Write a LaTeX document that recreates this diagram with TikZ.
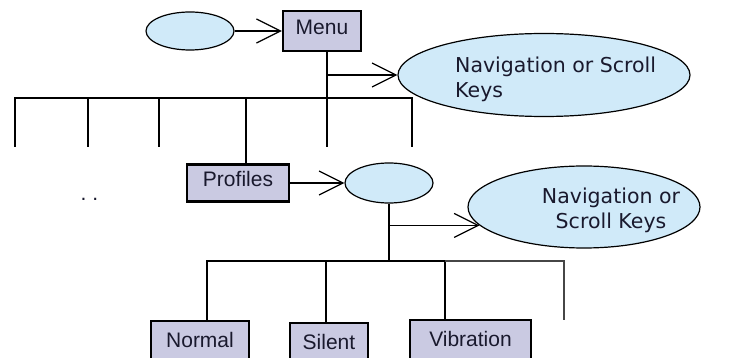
\documentclass[tikz,border=0pt]{standalone}
\usepackage{fontspec}
\setmainfont{Liberation Sans}
\newfontfamily\ellfont{DejaVu Sans}
\usetikzlibrary{shapes.geometric,arrows.meta}

\definecolor{boxfill}{RGB}{202,202,226}
\definecolor{ellfill}{RGB}{208,234,249}
\definecolor{ink}{RGB}{25,25,45}
\definecolor{greyline}{RGB}{70,70,70}

\begin{document}
\begin{tikzpicture}[x=1pt,y=-1pt,
  box/.style={draw=black, line width=2.4pt, fill=boxfill, rectangle, inner sep=0pt,
    text height=15pt, text depth=7pt, font=\fontsize{21}{25}\selectfont, text=ink},
  oval/.style={draw=black, line width=1.2pt, fill=ellfill, ellipse, inner sep=0pt},
  etext/.style={font=\ellfont\fontsize{20.5}{25}\selectfont, text=ink, inner sep=0pt},
  tree/.style={line width=2pt, draw=black},
  faint/.style={line width=1.3pt, draw=greyline},
  arr/.style={line width=1.2pt, draw=black, -{Straight Barb[length=24pt,width=24pt]}},
]
\useasboundingbox (0,0) rectangle (742,358);
\clip (0,0) rectangle (742,358);
\fill[white] (0,0) rectangle (742,358);

% top level
\node[oval, minimum width=88pt, minimum height=38pt] (e0) at (190,31) {};
\node[box, minimum width=78pt, minimum height=40pt] (menu) at (322,31) {Menu};
\node[oval, minimum width=292pt, minimum height=83pt] (e1) at (544,75) {};
\node[etext, anchor=north west, align=left] (e1t) at (455,56.5) {Navigation or Scroll\\Keys};

% second level
\node[box, minimum width=102pt, minimum height=37pt] (profiles) at (238,183) {Profiles};
\node[oval, minimum width=88pt, minimum height=40pt] (e2) at (389,183) {};
\node[oval, minimum width=232pt, minimum height=82pt] (e3) at (584,207) {};
\node[etext, anchor=north, align=center] (e3t) at (611,187.4) {Navigation or\\Scroll Keys};
\node[font=\fontsize{21}{25}\selectfont, text=ink, anchor=base, inner sep=0pt] (dots) at (89.5,200.5) {.\ .};

% third level
\node[box, minimum width=98pt, minimum height=44pt, anchor=north] (normal) at (200,320) {Normal};
\node[box, minimum width=78pt, minimum height=44pt, anchor=north] (silent) at (329,322) {Silent};
\node[box, minimum width=121pt, minimum height=44pt, anchor=north] (vibration) at (470.5,319) {Vibration};

% arrows
\draw[arr] (e0.east) -- (menu.west);
\draw[arr] (profiles.east) -- (e2.west);

% menu tree
\coordinate (bar1L) at (15,98);
\coordinate (bar1R) at (412,98);
\coordinate (l1) at (15,147);
\coordinate (l2) at (88,147);
\coordinate (l3) at (159,147);
\coordinate (pdrop) at (246,98);
\coordinate (l5) at (326.5,147);
\coordinate (l6) at (412,147);
\draw[tree] ([xshift=4.5pt]menu.south) -- (l5);
\draw[tree] (l1) -- (bar1L) -- (bar1R) -- (l6);
\draw[tree] (l2 |- bar1L) -- (l2);
\draw[tree] (l3 |- bar1L) -- (l3);
\draw[tree] (pdrop) -- (pdrop |- profiles.north);
\coordinate (b1) at (l5 |- e1.west);
\draw[arr] (b1) -- (e1.west);

% profiles tree
\coordinate (bar2L) at (207,261);
\coordinate (sdrop) at (326,261);
\coordinate (bar2M) at (445,261);
\coordinate (bar2R) at (564,261);
\coordinate (l7) at (564,320);
\draw[tree] (e2.south) -- (e2.south |- bar2L);
\draw[tree] (bar2L |- normal.north) -- (bar2L) -- (bar2M) -- (bar2M |- vibration.north);
\draw[tree] (sdrop) -- (sdrop |- silent.north);
\draw[faint] (bar2M) -- (bar2R) -- (l7);
\coordinate (b2) at (e2.south |- e3.190);
\draw[arr] (b2) -- (e3.190);
\end{tikzpicture}
\end{document}
